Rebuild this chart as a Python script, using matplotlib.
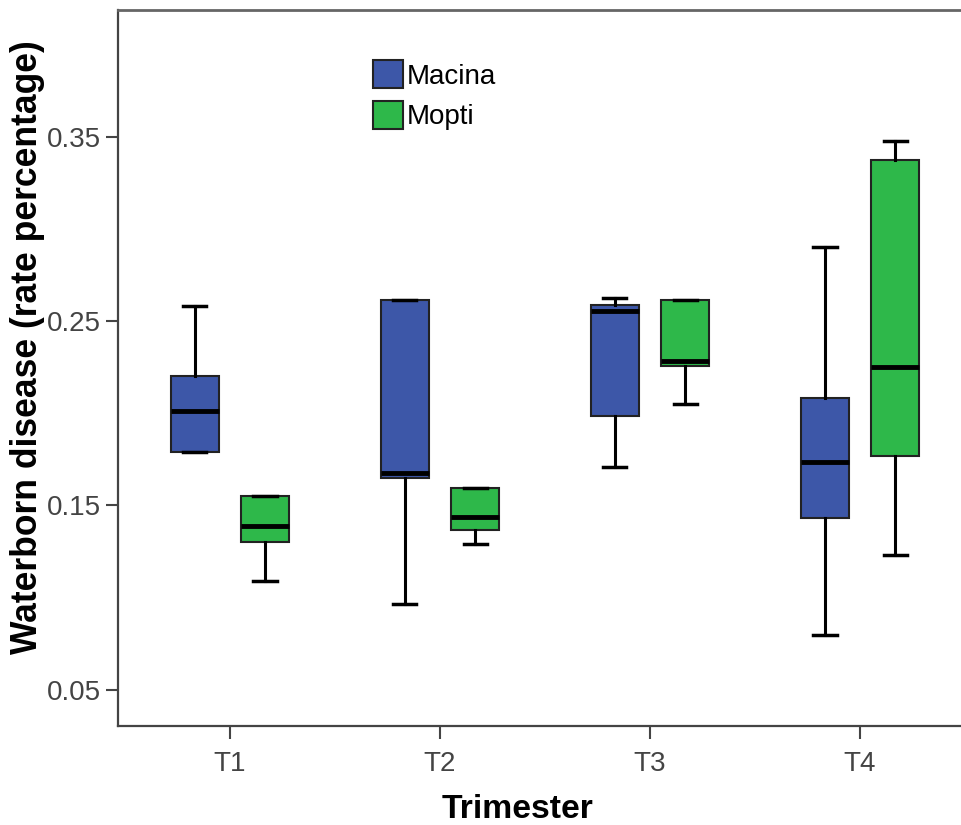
import matplotlib
matplotlib.use("Agg")
import matplotlib.pyplot as plt
from matplotlib.patches import Patch

plt.rcParams['font.family'] = ['Liberation Sans', 'DejaVu Sans']

trimesters = ["T1", "T2", "T3", "T4"]
groups = ["Macina", "Mopti"]
colors = {"Macina": "#3D57A8", "Mopti": "#2EB84A"}

# five-number summaries per trimester: (low whisker, Q1, median, Q3, high whisker)
macina_low = [0.1790, 0.0964, 0.1706, 0.0799]
macina_q1 = [0.1790, 0.1647, 0.1986, 0.1434]
macina_med = [0.2013, 0.1676, 0.2556, 0.1736]
macina_q3 = [0.2202, 0.2613, 0.2587, 0.2085]
macina_high = [0.2583, 0.2613, 0.2627, 0.2904]

mopti_low = [0.1092, 0.1291, 0.2050, 0.1229]
mopti_q1 = [0.1302, 0.1367, 0.2257, 0.1767]
mopti_med = [0.1390, 0.1436, 0.2281, 0.2250]
mopti_q3 = [0.1553, 0.1593, 0.2616, 0.3372]
mopti_high = [0.1553, 0.1593, 0.2616, 0.3475]

yticks = [0.05, 0.15, 0.25, 0.35]
ytick_labels = ["0.05", "0.15", "0.25", "0.35"]

fig = plt.figure(figsize=(9.62, 8.25), dpi=100)
ax = fig.add_axes([118/962, 99/825, 854/962, 716/825])

def stats(low, q1, med, q3, high):
    return [dict(whislo=a, q1=b, med=c, q3=d, whishi=e, fliers=[])
            for a, b, c, d, e in zip(low, q1, med, q3, high)]

series = {
    "Macina": stats(macina_low, macina_q1, macina_med, macina_q3, macina_high),
    "Mopti": stats(mopti_low, mopti_q1, mopti_med, mopti_q3, mopti_high),
}
offsets = {"Macina": -0.167, "Mopti": 0.167}
base = list(range(1, len(trimesters) + 1))

for g in groups:
    pos = [p + offsets[g] for p in base]
    ax.bxp(series[g], positions=pos, widths=0.229, patch_artist=True,
           showfliers=False, manage_ticks=False,
           boxprops=dict(facecolor=colors[g], edgecolor="#222222", linewidth=1.5),
           medianprops=dict(color="black", linewidth=3.5, solid_capstyle="butt"),
           whiskerprops=dict(color="black", linewidth=2.2),
           capprops=dict(color="black", linewidth=2.5),
           capwidths=0.11)

ax.set_xlim(0.467, 4.533)
ax.set_ylim(0.0304, 0.4187)
ax.set_xticks(base)
ax.set_xticklabels(trimesters)
ax.set_yticks(yticks)
ax.set_yticklabels(ytick_labels)

spine_c = "#444444"
for s in ["left", "bottom", "top"]:
    ax.spines[s].set_color(spine_c)
    ax.spines[s].set_linewidth(1.6)
ax.spines["top"].set_color("#666666")
ax.spines["top"].set_linewidth(2.0)
ax.spines["right"].set_visible(False)
ax.tick_params(axis="both", direction="out", length=9, width=1.5, color=spine_c,
               labelsize=20, labelcolor="#444444")
ax.tick_params(axis="y", pad=3)
ax.tick_params(axis="x", pad=9)

ax.set_ylabel("Waterborn disease (rate percentage)", fontsize=25.6, fontweight="bold")
ax.yaxis.set_label_coords(-0.086, 0.529)
ax.set_xlabel("Trimester", fontsize=24.3, fontweight="bold")
ax.xaxis.set_label_coords(0.468, -0.095)

handles = [Patch(facecolor=colors[g], edgecolor="#222222", linewidth=1.5, label=g) for g in groups]
fs = 20
leg = fig.legend(handles=handles, loc="upper left", bbox_to_anchor=(373/962, 1 - 60/825),
                 frameon=False, fontsize=fs, handlelength=1.08, handleheight=1.2,
                 handletextpad=0.12, labelspacing=0.4, borderpad=0, borderaxespad=0)

fig.savefig("out.png", dpi=100)
